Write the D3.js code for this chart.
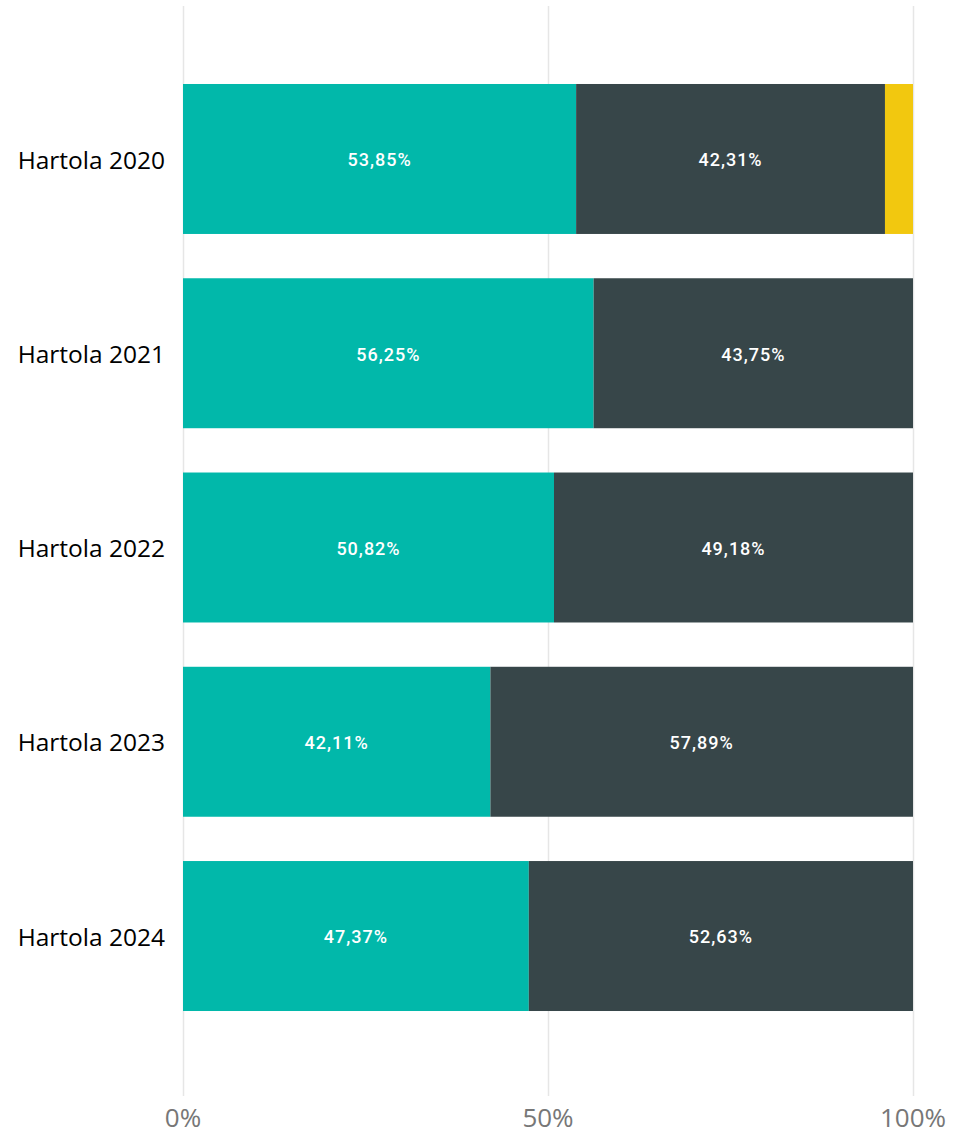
<!DOCTYPE html>
<html>
<head>
<meta charset="utf-8">
<script src="https://cdn.jsdelivr.net/npm/d3@7"></script>
<style>
    body { margin: 0; background: #fff; }
</style>
</head>
<body>
<svg id="chart" width="954" height="1134"></svg>
<script>
const categories = ['Hartola 2020', 'Hartola 2021', 'Hartola 2022', 'Hartola 2023', 'Hartola 2024'];
const seriesA = [53.85, 56.25, 50.82, 42.11, 47.37];
const seriesB = [42.31, 43.75, 49.18, 57.89, 52.63];
const seriesC = [3.84, 0, 0, 0, 0];
const tickValues = [0, 50, 100];
const colors = ['#01B8AA', '#374649', '#F2C80F'];

const svg = d3.select('#chart');
const left = 183, right = 913;

const x = d3.scaleLinear().domain([0, 100]).range([left, right]);
const y = d3.scaleBand().domain(categories).range([39.7, 1055.3]).paddingInner(0.228).paddingOuter(0.228);

// gridlines
svg.append('g').selectAll('line')
    .data(tickValues)
    .join('line')
    .attr('x1', d => x(d) + 0.5).attr('x2', d => x(d) + 0.5)
    .attr('y1', 6).attr('y2', 1096)
    .attr('stroke', '#e6e6e6')
    .attr('stroke-width', 1.5);

// tick labels
svg.append('g').selectAll('text')
    .data(tickValues)
    .join('text')
    .attr('x', d => x(d))
    .attr('y', 1127)
    .attr('text-anchor', 'middle')
    .attr('fill', '#777777')
    .style('font-family', '"Segoe UI", "Open Sans", sans-serif')
    .style('font-size', '26px')
    .text(d => d + '%');

// build stacks
const rows = categories.map((c, i) => ({cat: c, a: seriesA[i], b: seriesB[i], c: seriesC[i]}));
const stack = d3.stack().keys(['a', 'b', 'c'])(rows);

const layers = svg.append('g').selectAll('g')
    .data(stack)
    .join('g')
    .attr('fill', (d, i) => colors[i]);

layers.selectAll('rect')
    .data(d => d)
    .join('rect')
    .attr('x', d => x(d[0]))
    .attr('y', d => y(d.data.cat))
    .attr('width', d => x(d[1]) - x(d[0]))
    .attr('height', y.bandwidth());

// value labels
const fmt = v => v.toFixed(2).replace('.', ',') + '%';
layers.filter((d, i) => i < 2).selectAll('text')
    .data(d => d.filter(s => s[1] - s[0] > 5))
    .join('text')
    .attr('x', d => (x(d[0]) + x(d[1])) / 2)
    .attr('y', d => y(d.data.cat) + y.bandwidth() / 2 + 1)
    .attr('dy', '0.35em')
    .attr('text-anchor', 'middle')
    .attr('fill', '#ffffff')
    .style('font-family', 'Roboto, "DejaVu Sans", sans-serif')
    .style('font-size', '18px')
    .style('font-weight', 500)
    .style('letter-spacing', '1px')
    .text(d => fmt(d[1] - d[0]));

// category labels
svg.append('g').selectAll('text')
    .data(categories)
    .join('text')
    .attr('x', 165)
    .attr('y', d => y(d) + y.bandwidth() / 2 + 1)
    .attr('dy', '0.35em')
    .attr('text-anchor', 'end')
    .attr('fill', '#000000')
    .style('font-family', '"Segoe UI", "Open Sans", sans-serif')
    .style('font-size', '24.5px')
    .text(d => d);
</script>
</body>
</html>
